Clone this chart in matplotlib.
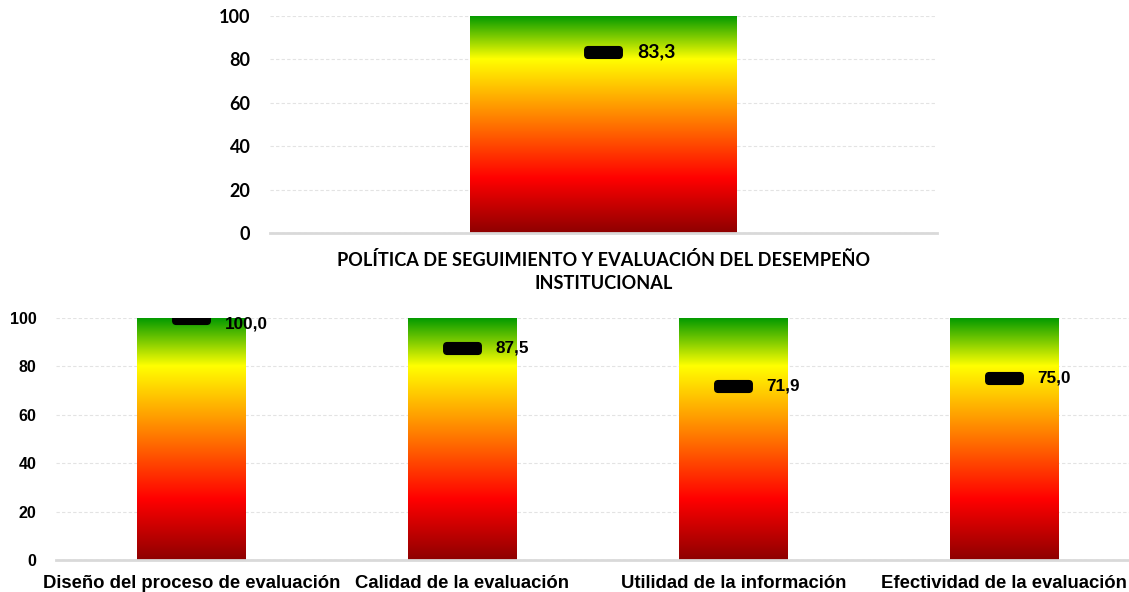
import numpy as np
import matplotlib
matplotlib.use("Agg")
import matplotlib.pyplot as plt
from matplotlib.colors import LinearSegmentedColormap
from matplotlib.patches import FancyBboxPatch

# ---------------------------------
# data
top_categories = [""]
top_values = [83.3]
bottom_categories = ["Diseño del proceso de evaluación", "Calidad de la evaluación",
                     "Utilidad de la información", "Efectividad de la evaluación"]
bottom_values = [100.0, 87.5, 71.9, 75.0]
scale_max = 100
yticks = [0, 20, 40, 60, 80, 100]
subtitle = "POLÍTICA DE SEGUIMIENTO Y EVALUACIÓN DEL DESEMPEÑO\nINSTITUCIONAL"
# ---------------------------------

semaforo = LinearSegmentedColormap.from_list(
    "semaforo",
    [(0.0, "#8e0000"), (0.25, "#ff0000"), (0.58, "#ff9900"),
     (0.80, "#ffff00"), (1.0, "#009900")])

# rounded bar used as the score marker
pill = FancyBboxPatch((-1.6, -0.5), 3.2, 1.0,
                      boxstyle="round,pad=0,rounding_size=0.3").get_path()


def gauge(ax, categories, values, font, tick_size, label_size, cat_size,
          label_dy=None):
    x = np.arange(len(categories))
    bars = ax.bar(x, [scale_max] * len(x), width=0.40, color="none", zorder=2)
    grad = np.linspace(0, 1, 256).reshape(-1, 1)
    for b in bars:
        im = ax.imshow(grad, cmap=semaforo, origin="lower", aspect="auto",
                       extent=(b.get_x(), b.get_x() + b.get_width(), 0, scale_max),
                       zorder=2)
        im.set_clip_path(b)
    ax.plot(x, values, ls="none", marker=pill, ms=27, color="black", zorder=4)
    for i, (xi, v) in enumerate(zip(x, values)):
        dy = label_dy[i] if label_dy else 0
        ax.annotate(f"{v:.1f}".replace(".", ","), (xi, v),
                    xytext=(24, dy), textcoords="offset points",
                    ha="left", va="center", fontsize=label_size,
                    fontweight="bold", family=font, zorder=5)
    ax.set_xlim(-0.5, len(x) - 0.5)
    ax.set_ylim(0, scale_max)
    ax.set_yticks(yticks)
    ax.set_xticks(x)
    ax.set_xticklabels(categories)
    ax.grid(axis="y", color="#e3e3e3", ls=(0, (3, 2)), lw=0.8, zorder=0)
    ax.set_axisbelow(True)
    for s in ("top", "right", "left"):
        ax.spines[s].set_visible(False)
    ax.spines["bottom"].set_color("#d9d9d9")
    ax.spines["bottom"].set_linewidth(2)
    ax.spines["bottom"].set_zorder(3)
    ax.tick_params(length=0)
    for t in ax.get_yticklabels():
        t.set_fontweight("bold")
        t.set_family(font)
        t.set_fontsize(tick_size)
    for t in ax.get_xticklabels():
        t.set_fontweight("bold")
        t.set_family(font)
        t.set_fontsize(cat_size)


fig = plt.figure(figsize=(11.29, 5.92), dpi=100)

ax_top = fig.add_axes([0.239, 0.6064, 0.591, 0.3666])
gauge(ax_top, top_categories, top_values, "Lato", 13, 14, 13)
ax_top.tick_params(axis="y", pad=14)

ax_bot = fig.add_axes([0.0496, 0.0541, 0.960, 0.4088])
gauge(ax_bot, bottom_categories, bottom_values, "Liberation Sans", 11.5, 12.3, 13.3,
      label_dy=[-4, 0, 0, 0])
ax_bot.tick_params(axis="y", pad=14)
ax_bot.tick_params(axis="x", pad=11)

fig.text(0.535, 0.541, subtitle, ha="center", va="center", fontsize=13.1,
         fontweight="bold", family="Lato", linespacing=1.45)

fig.savefig("out.png", dpi=100)
